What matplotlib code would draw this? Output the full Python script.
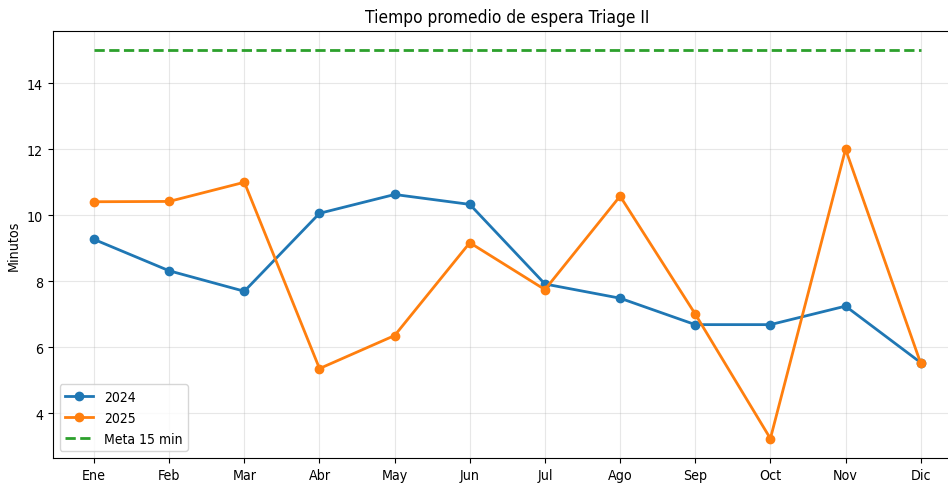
import matplotlib
matplotlib.use("Agg")
import matplotlib.pyplot as plt

meses = ["Ene", "Feb", "Mar", "Abr", "May", "Jun", "Jul", "Ago", "Sep", "Oct", "Nov", "Dic"]
espera_2024 = [9.27, 8.32, 7.70, 10.06, 10.63, 10.33, 7.92, 7.49, 6.69, 6.69, 7.25, 5.54]
espera_2025 = [10.41, 10.42, 11.00, 5.36, 6.36, 9.17, 7.75, 10.58, 7.01, 3.24, 12.00, 5.52]
meta = 15

plt.rcParams["font.family"] = ["DejaVu Sans"]
plt.rcParams["font.stretch"] = "condensed"

fig = plt.figure(figsize=(9.48, 4.85), dpi=100)
ax = fig.add_axes([0.0556, 0.0536, 0.9592, 0.881])

x = list(range(len(meses)))
ax.plot(x, espera_2024, marker="o", linewidth=2, markersize=6, color="#1f77b4", label="2024")
ax.plot(x, espera_2025, marker="o", linewidth=2, markersize=6, color="#ff7f0e", label="2025")
ax.plot(x, [meta] * len(meses), linestyle="--", linewidth=2, color="#2ca02c", label="Meta 15 min")

ax.set_xticks(x)
ax.set_xticklabels(meses, fontsize=10.2)
ax.tick_params(axis="y", labelsize=10.2)
ax.set_title("Tiempo promedio de espera Triage II", fontsize=12.4)
ax.set_ylabel("Minutos", fontsize=10.2)
ax.grid(True, alpha=0.3)
ax.legend(loc="lower left", fontsize=10)

fig.savefig("out.png", dpi=100)
